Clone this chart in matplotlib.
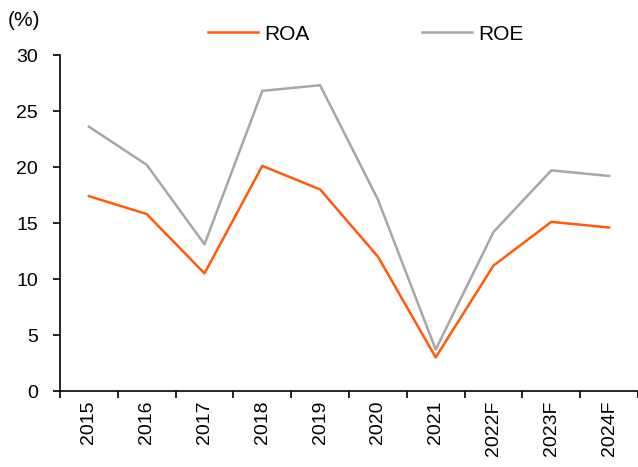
import matplotlib
matplotlib.use("Agg")
import matplotlib.pyplot as plt
import numpy as np

years = ["2015", "2016", "2017", "2018", "2019", "2020", "2021", "2022F", "2023F", "2024F"]
roa = [17.4, 15.8, 10.5, 20.1, 18.0, 12.0, 3.0, 11.2, 15.1, 14.6]
roe = [23.6, 20.2, 13.1, 26.8, 27.3, 17.1, 3.7, 14.2, 19.7, 19.2]

plt.rcParams['font.family'] = ['Liberation Sans', 'DejaVu Sans']

fig = plt.figure(figsize=(6.38, 4.67), dpi=100)
ax = fig.add_axes([60/638, 76/467, 578/638, 336/467])

x = np.arange(len(years))
ax.plot(x, roa, color="#FF5B0A", lw=1.8, label="ROA")
ax.plot(x, roe, color="#A6A6A6", lw=1.8, label="ROE")

ax.set_xlim(-0.5, len(years) - 0.5)
ax.set_ylim(0, 30)
ax.set_yticks(range(0, 31, 5))
ax.set_xticks(x)
ax.set_xticklabels(years, rotation=90, fontsize=14)
ax.set_xticks(np.arange(-0.5, len(years), 1), minor=True)
ax.tick_params(axis='x', which='major', length=0, pad=7)
ax.tick_params(axis='x', which='minor', length=5, width=1.2, direction='out')
ax.tick_params(axis='y', labelsize=14, length=5, width=1.2, direction='out', pad=11)

for s in ['top', 'right']:
    ax.spines[s].set_visible(False)
for s in ['left', 'bottom']:
    ax.spines[s].set_linewidth(1.2)

fig.text(8/638, 1 - 20/467, "(%)", fontsize=15, va='center', ha='left')

fig.legend(loc='center', bbox_to_anchor=(366/638, 1 - 34/467), ncol=2, frameon=False,
           fontsize=15, handlelength=2.4, handletextpad=0.3, columnspacing=5.4,
           borderpad=0.1)

fig.savefig("out.png", dpi=100)
